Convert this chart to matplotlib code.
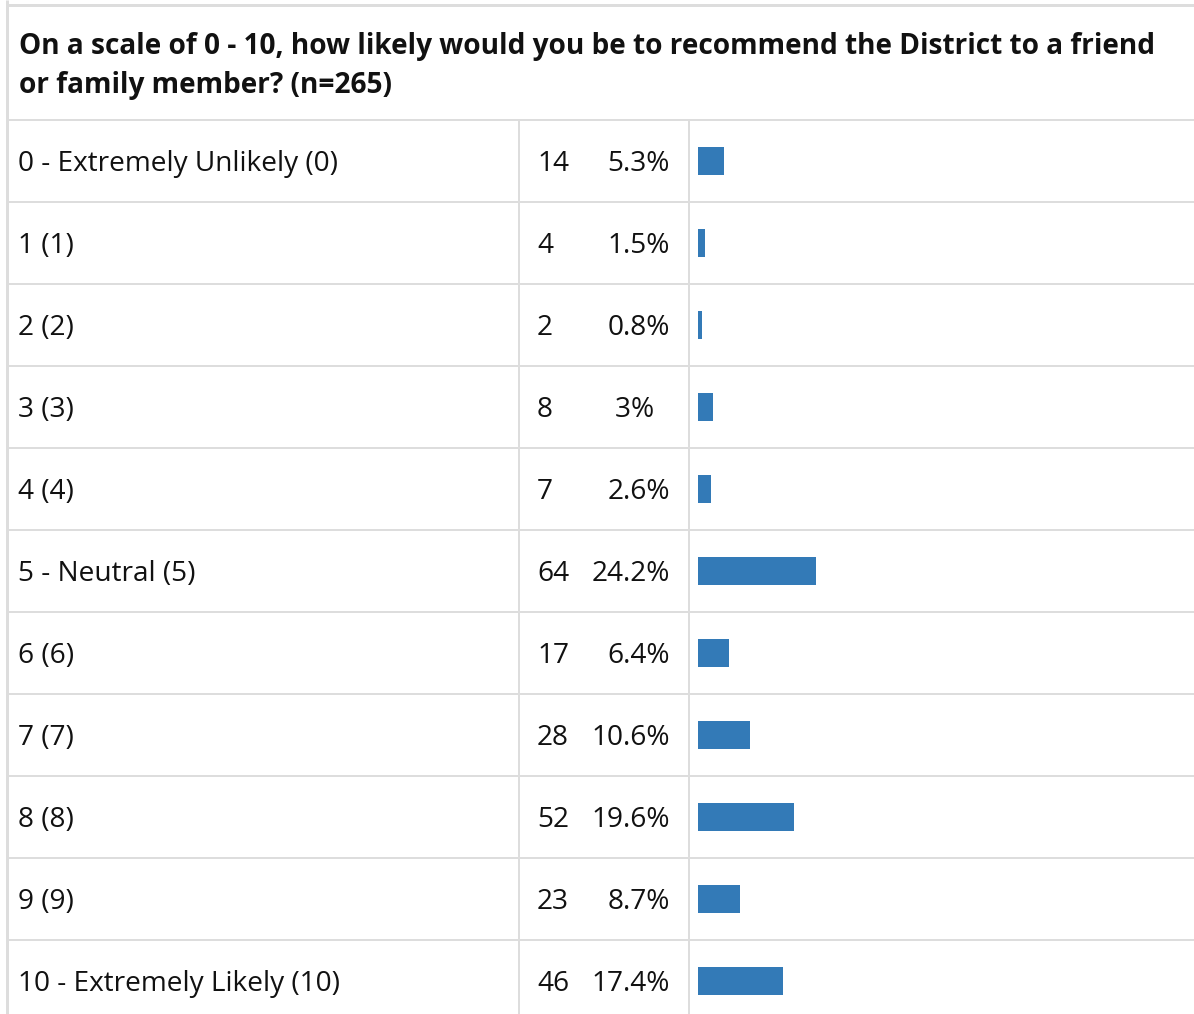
import matplotlib
matplotlib.use("Agg")
import matplotlib.pyplot as plt

# ---- data ----
title_lines = ["On a scale of 0 - 10, how likely would you be to recommend the District to a friend",
               "or family member? (n=265)"]
categories = ["0 - Extremely Unlikely (0)", "1 (1)", "2 (2)", "3 (3)", "4 (4)", "5 - Neutral (5)",
              "6 (6)", "7 (7)", "8 (8)", "9 (9)", "10 - Extremely Likely (10)"]
counts = [14, 4, 2, 8, 7, 64, 17, 28, 52, 23, 46]
percents = [5.3, 1.5, 0.8, 3, 2.6, 24.2, 6.4, 10.6, 19.6, 8.7, 17.4]
percent_labels = ["5.3%", "1.5%", "0.8%", "3%\u2007", "2.6%", "24.2%", "6.4%", "10.6%", "19.6%", "8.7%", "17.4%"]

# ---- style ----
W, H = 1194, 1014
DPI = 100
FONT = ["Open Sans", "DejaVu Sans"]
TEXT_C = "#111111"
GRID_C = "#dddddd"
BAR_C = "#337ab7"
FS = 20.2
HEADER_BOTTOM = 120
ROW_H = 82

fig = plt.figure(figsize=(W / DPI, H / DPI), dpi=DPI)
fig.patch.set_facecolor("white")

# layout axes in pixel coordinates
ax = fig.add_axes([0, 0, 1, 1])
ax.set_xlim(0, W)
ax.set_ylim(H, 0)
ax.axis("off")

px = 72.0 / DPI  # points per pixel
# borders
ax.plot([7, W], [4.5, 4.5], color=GRID_C, lw=3 * px, solid_capstyle="butt")
ax.plot([7, 7], [0, H], color=GRID_C, lw=3 * px, solid_capstyle="butt")

# header text
ax.text(19, 54, title_lines[0], fontsize=FS, fontweight="bold", family=FONT,
        color=TEXT_C, ha="left", va="baseline")
ax.text(19, 93, title_lines[1], fontsize=FS, fontweight="bold", family=FONT,
        color=TEXT_C, ha="left", va="baseline")

n = len(categories)
for i in range(n):
    top = HEADER_BOTTOM + ROW_H * i
    ax.plot([8, W], [top, top], color=GRID_C, lw=2 * px, solid_capstyle="butt")
ax.plot([519, 519], [HEADER_BOTTOM, H], color=GRID_C, lw=2 * px, solid_capstyle="butt")
ax.plot([689, 689], [HEADER_BOTTOM, H], color=GRID_C, lw=2 * px, solid_capstyle="butt")

for i, (cat, cnt, pl) in enumerate(zip(categories, counts, percent_labels)):
    base = HEADER_BOTTOM + ROW_H * i + ROW_H / 2 + 10
    ax.text(18, base, cat, fontsize=FS, family=FONT, color=TEXT_C, ha="left", va="baseline")
    ax.text(537, base, str(cnt), fontsize=FS, family=FONT, color=TEXT_C, ha="left", va="baseline")
    ax.text(670, base, pl, fontsize=FS, family=FONT, color=TEXT_C, ha="right", va="baseline")

# bar axes: x in percent, y in row index
x0, x1 = 698, 1186
bax = fig.add_axes([x0 / W, 0, (x1 - x0) / W, 1])
bax.set_xlim(0, 100)
c0 = HEADER_BOTTOM + ROW_H / 2
bax.set_ylim((H - c0) / ROW_H, (0 - c0) / ROW_H)
bax.barh(range(n), percents, height=28 / ROW_H, color=BAR_C, left=0)
bax.axis("off")
bax.patch.set_alpha(0)

fig.savefig("out.png", dpi=DPI, facecolor="white")
